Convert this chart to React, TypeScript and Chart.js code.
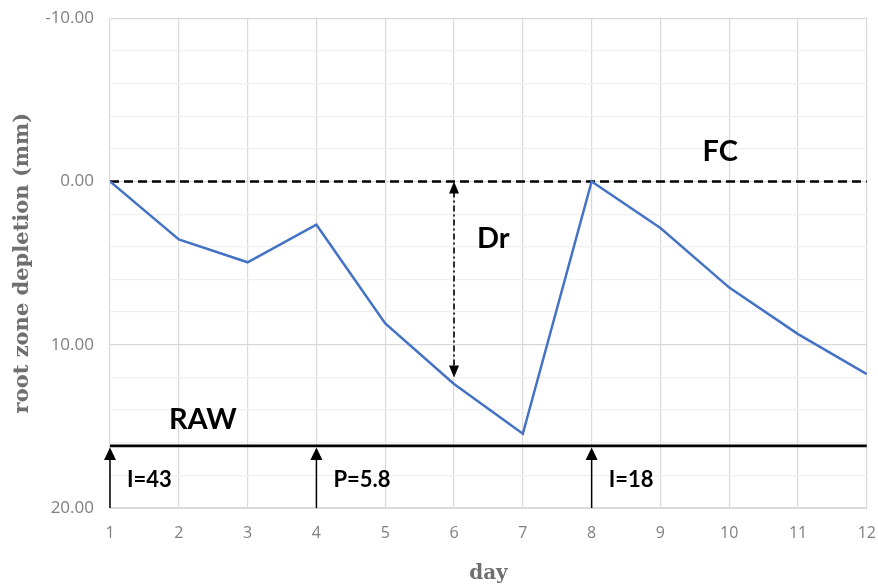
import React, { useEffect, useRef } from "react";
import { Chart, registerables } from "chart.js";

Chart.register(...registerables);

const days = [1, 2, 3, 4, 5, 6, 7, 8, 9, 10, 11, 12];
const depletion = [0, 3.55, 4.95, 2.65, 8.7, 12.4, 15.45, 0, 2.85, 6.5, 9.35, 11.8];
const fcLevel = 0;
const rawLevel = 16.2;
const drDay = 6;
const drValue = 12.0;
const eventDays = [1, 4, 8];
const eventLabels = ["I=43", "P=5.8", "I=18"];
const yMajorTicks = [-10, 0, 10, 20];

const annotationPlugin = {
  id: "annot",
  afterDatasetsDraw(chart: any) {
    const ctx = chart.ctx;
    const xs = chart.scales.x;
    const ys = chart.scales.y;
    const px = (v: number) => xs.getPixelForValue(v);
    const py = (v: number) => ys.getPixelForValue(v);
    ctx.save();
    ctx.fillStyle = "#000";
    ctx.strokeStyle = "#000";

    // event arrows
    const bottom = py(20);
    const rawY = py(rawLevel);
    eventDays.forEach((d, i) => {
      const x = px(d);
      ctx.lineWidth = 1.5;
      ctx.setLineDash([]);
      ctx.beginPath();
      ctx.moveTo(x, bottom);
      ctx.lineTo(x, rawY + 12);
      ctx.stroke();
      ctx.beginPath();
      ctx.moveTo(x, rawY + 1.5);
      ctx.lineTo(x - 6, rawY + 14);
      ctx.lineTo(x + 6, rawY + 14);
      ctx.closePath();
      ctx.fill();
      ctx.font = "bold 22px Lato";
      ctx.textAlign = "left";
      ctx.textBaseline = "middle";
      ctx.fillText(eventLabels[i], x + 17, py(18.3));
    });

    // Dr double arrow
    const dx = px(drDay);
    const top = py(fcLevel);
    const bot = py(drValue);
    ctx.lineWidth = 1.6;
    ctx.setLineDash([6, 3, 2, 3]);
    ctx.beginPath();
    ctx.moveTo(dx, top + 10);
    ctx.lineTo(dx, bot - 10);
    ctx.stroke();
    ctx.setLineDash([]);
    ctx.beginPath();
    ctx.moveTo(dx, top);
    ctx.lineTo(dx - 5, top + 12);
    ctx.lineTo(dx + 5, top + 12);
    ctx.closePath();
    ctx.fill();
    ctx.beginPath();
    ctx.moveTo(dx, bot);
    ctx.lineTo(dx - 5, bot - 12);
    ctx.lineTo(dx + 5, bot - 12);
    ctx.closePath();
    ctx.fill();

    // Text labels
    ctx.textAlign = "center";
    ctx.textBaseline = "middle";
    ctx.font = "bold 29px Lato";
    ctx.fillText("RAW", px(2.35), py(14.6));
    ctx.fillText("Dr", px(6.57), py(3.5));
    ctx.fillText("FC", px(9.87), py(-1.8));
    ctx.restore();
  },
};

export default function App() {
  const ref = useRef<HTMLCanvasElement>(null);
  useEffect(() => {
    document.body.style.margin = "0";
    document.body.style.overflow = "hidden";
    const chart = new Chart(ref.current!, {
      type: "line",
      data: {
        datasets: [
          {
            label: "Dr",
            data: days.map((d, i) => ({ x: d, y: depletion[i] })),
            borderColor: "#4472C4",
            borderWidth: 2.5,
            pointRadius: 0,
            tension: 0,
          },
          {
            label: "FC",
            data: [
              { x: days[0], y: fcLevel },
              { x: days[days.length - 1], y: fcLevel },
            ],
            borderColor: "#000",
            borderWidth: 2.5,
            borderDash: [9, 5],
            pointRadius: 0,
          },
          {
            label: "RAW",
            data: [
              { x: days[0], y: rawLevel },
              { x: days[days.length - 1], y: rawLevel },
            ],
            borderColor: "#000",
            borderWidth: 2.8,
            pointRadius: 0,
          },
        ],
      },
      options: {
        animation: false,
        responsive: true,
        maintainAspectRatio: false,
        layout: { padding: { left: 0, right: 8, top: 8, bottom: 0 } },
        plugins: { legend: { display: false }, tooltip: { enabled: false } },
        scales: {
          x: {
            type: "linear",
            min: 1,
            max: 12,
            ticks: {
              stepSize: 1,
              color: "#808080",
              font: { family: "Open Sans", size: 16 },
              padding: 16,
            },
            grid: { color: "#d9d9d9", lineWidth: 1.2, drawTicks: false },
            border: { color: "#d9d9d9" },
            title: {
              display: true,
              text: "day",
              color: "#6f6f6f",
              font: { family: "DejaVu Serif", size: 20, weight: "bold" },
              padding: { top: 6, bottom: 0 },
            },
            afterFit(s: any) {
              s.height = 78;
            },
          },
          y: {
            type: "linear",
            reverse: true,
            min: -10,
            max: 20,
            ticks: {
              stepSize: 2,
              color: "#808080",
              font: { family: "Open Sans", size: 17 },
              padding: 16,
              callback: (v: any) =>
                yMajorTicks.includes(Number(v)) ? Number(v).toFixed(2) : "",
            },
            grid: {
              color: (c: any) =>
                yMajorTicks.includes(c.tick?.value) ? "#d9d9d9" : "#f0f0f0",
              lineWidth: 1.2,
              drawTicks: false,
            },
            border: { display: false },
            title: {
              display: true,
              text: "root zone depletion (mm)",
              color: "#6f6f6f",
              font: { family: "DejaVu Serif", size: 21, weight: "bold" },
              padding: { top: 10, bottom: 0 },
            },
            afterFit(s: any) {
              s.width = 110;
            },
          },
        },
      },
      plugins: [annotationPlugin],
    });
    return () => chart.destroy();
  }, []);
  return (
    <div style={{ position: "absolute", left: 0, top: 0, width: 878, height: 586, overflow: "hidden" }}>
      <div style={{ position: "absolute", left: 0, top: -8, width: 892, height: 594 }}>
        <canvas ref={ref} />
      </div>
    </div>
  );
}
